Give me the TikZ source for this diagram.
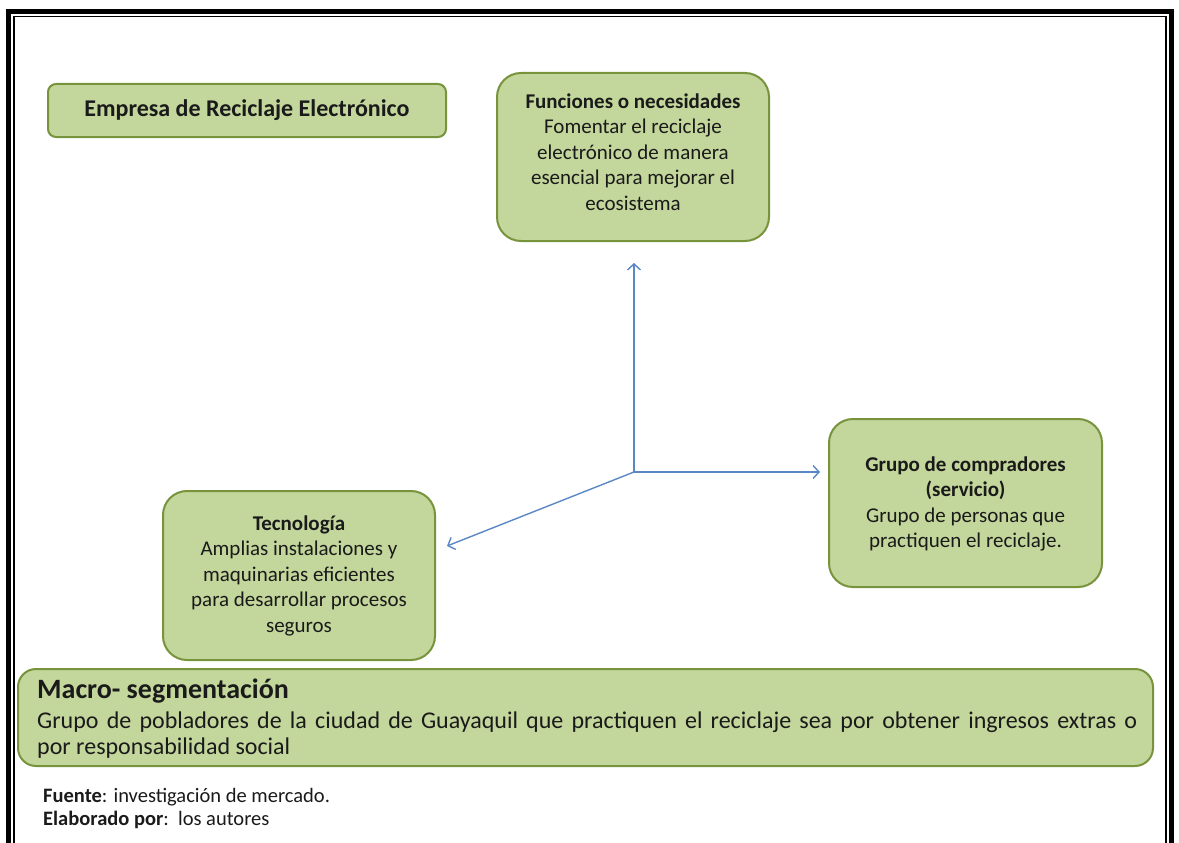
\documentclass[tikz,border=0pt]{standalone}
\usepackage{fontspec}
\setmainfont{Carlito}
\usetikzlibrary{arrows.meta}
\definecolor{boxfill}{HTML}{C3D69B}
\definecolor{boxline}{HTML}{77933C}
\definecolor{arrowc}{HTML}{5B87C5}
\definecolor{txt}{HTML}{1A1A1A}
\tikzset{
  gbox/.style={fill=boxfill, draw=boxline, line width=2pt, rounded corners=24pt},
  btext/.style={align=center, text=txt, font=\fontsize{21}{25.5}\selectfont, inner sep=0pt},
  axis/.style={draw=arrowc, line width=1.4pt, -{Straight Barb[length=6pt,width=13pt,line width=1.4pt]}},
  framethick/.style={draw=black, line width=5pt},
  framethin/.style={draw=black, line width=1.6pt},
  foot/.style={anchor=base west, inner sep=0pt, text=txt, font=\fontsize{20.5}{23}\selectfont},
}
\begin{document}
\begin{tikzpicture}[x=1pt,y=-1pt]
\useasboundingbox (0,0) rectangle (1179,843);
\begin{scope}
\clip (0,0) rectangle (1179,843);
% frame
\draw[framethick] (8.5,11.5) rectangle (1171.5,870);
\draw[framethin] (14,16.5) rectangle (1166,865);
\end{scope}
% boxes
\draw[gbox, rounded corners=8pt] (48,84) rectangle (446,137);
\node[btext, font=\fontsize{24}{26}\selectfont\bfseries] (emp) at (247,110.5) {Empresa de Reciclaje Electrónico};

\draw[gbox] (497,73) rectangle (769,241);
\node[btext] (fun) at (633,152) {\textbf{Funciones o necesidades}\\Fomentar el reciclaje\\electrónico de manera\\esencial para mejorar el\\ecosistema};

\draw[gbox] (829,419) rectangle (1102,587);
\node[btext] (gru) at (965.5,504) {\textbf{Grupo de compradores}\\\textbf{(servicio)}\\Grupo de personas que\\practiquen el reciclaje.};

\draw[gbox] (163,491) rectangle (435,660);
\node[btext] (tec) at (299,575.5) {\textbf{Tecnología}\\Amplias instalaciones y\\maquinarias eficientes\\para desarrollar procesos\\seguros};

\draw[gbox, rounded corners=18pt] (18,669) rectangle (1153,766);
\node[anchor=base west, inner sep=0pt, text=txt, font=\fontsize{28}{30}\selectfont\bfseries] (mach) at (37,698) {Macro- segmentación};
\node[anchor=north west, inner sep=0pt, text=txt, text width=1100pt, align=justify, font=\fontsize{24}{26}\selectfont] (mac) at (37,712)
{Grupo de pobladores de la ciudad de Guayaquil que practiquen el reciclaje sea por obtener ingresos extras o\linebreak por responsabilidad social};

% footer
\node[foot] (fue) at (43,802) {\textbf{Fuente}: investigación de mercado.};
\node[foot] (ela) at (43,825) {\textbf{Elaborado por}:\ \ los autores};

% axes
\coordinate (o) at (634,472);
\coordinate (up) at (634,263);
\coordinate (rt) at (820,472);
\coordinate (dl) at (447,546);
\draw[axis] (o) -- (up);
\draw[axis] (o) -- (rt);
\draw[axis] (o) -- (dl);
\end{tikzpicture}
\end{document}
